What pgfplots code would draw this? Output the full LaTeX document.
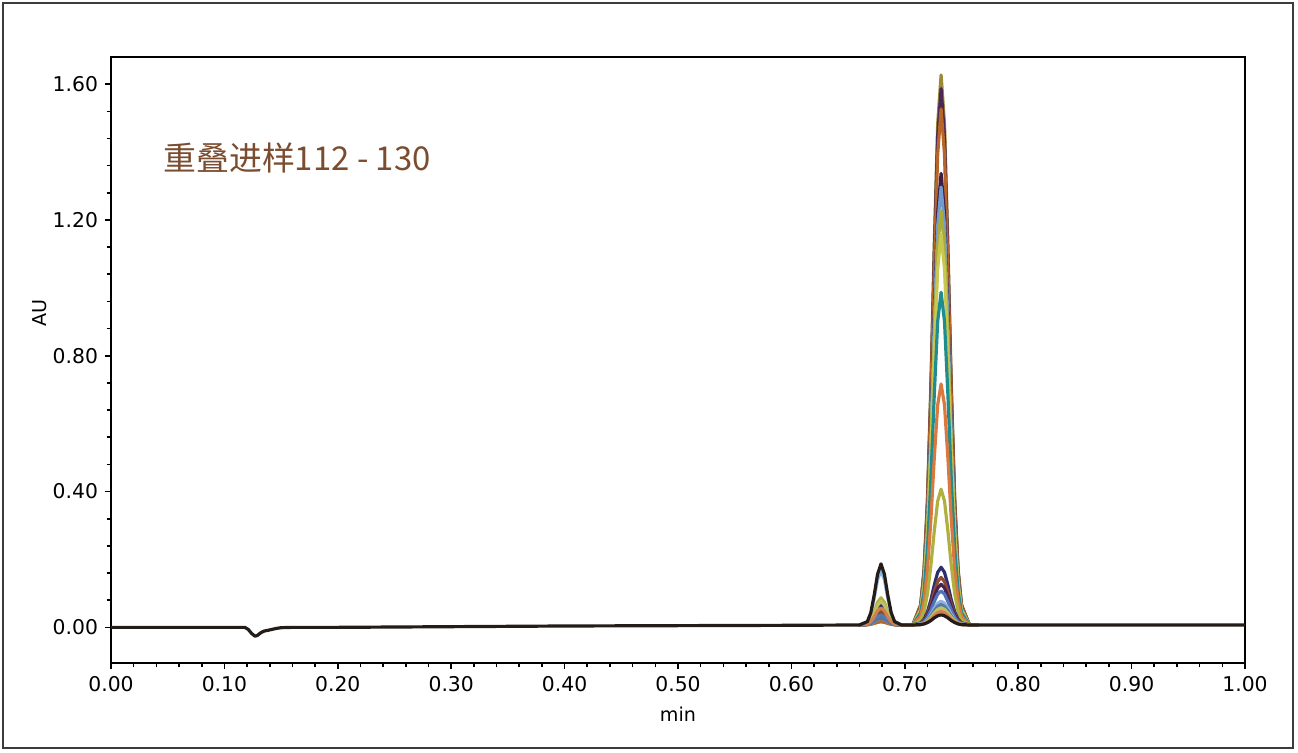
\documentclass[border=0pt]{standalone}
\usepackage{pgfplots}
\usepackage{pgfplotstable}
\pgfplotsset{compat=1.18}
\usepackage{fontspec}
\setmainfont{DejaVu Sans}
\newfontfamily\cjk{Noto Sans CJK SC}
\definecolor{c1}{RGB}{156,138,58}
\definecolor{c2}{RGB}{75,40,85}
\definecolor{c3}{RGB}{184,101,42}
\definecolor{c4}{RGB}{60,30,70}
\definecolor{c5}{RGB}{110,155,210}
\definecolor{c6}{RGB}{169,172,60}
\definecolor{c7}{RGB}{200,200,80}
\definecolor{c8}{RGB}{31,140,143}
\definecolor{c9}{RGB}{217,120,63}
\definecolor{c10}{RGB}{176,176,64}
\definecolor{c11}{RGB}{46,46,110}
\definecolor{c12}{RGB}{142,74,51}
\definecolor{c13}{RGB}{75,33,80}
\definecolor{c14}{RGB}{79,114,184}
\definecolor{c15}{RGB}{141,179,226}
\definecolor{c16}{RGB}{90,122,160}
\definecolor{c17}{RGB}{192,192,96}
\definecolor{c18}{RGB}{208,128,80}
\definecolor{cblack}{RGB}{35,28,25}
\definecolor{titlebrown}{RGB}{122,76,48}
\definecolor{framegray}{RGB}{60,60,60}

\pgfplotstableread{
x a b c d e f g h i j k l m n o p q r
0.660 0.007 0.007 0.007 0.007 0.007 0.007 0.007 0.007 0.007 0.007 0.007 0.007 0.007 0.007 0.007 0.007 0.007 0.007
0.667 0.008 0.008 0.008 0.009 0.008 0.009 0.008 0.009 0.010 0.011 0.010 0.009 0.009 0.008 0.016 0.009 0.011 0.010
0.670 0.009 0.011 0.009 0.013 0.011 0.015 0.011 0.013 0.017 0.023 0.019 0.015 0.013 0.011 0.039 0.013 0.021 0.017
0.673 0.012 0.017 0.012 0.022 0.017 0.026 0.017 0.022 0.031 0.046 0.036 0.026 0.022 0.017 0.085 0.022 0.041 0.031
0.676 0.015 0.024 0.015 0.032 0.024 0.040 0.024 0.032 0.049 0.074 0.057 0.040 0.032 0.024 0.141 0.032 0.065 0.049
0.679 0.017 0.027 0.017 0.037 0.027 0.047 0.027 0.037 0.057 0.087 0.067 0.047 0.037 0.027 0.167 0.037 0.077 0.057
0.682 0.015 0.024 0.015 0.032 0.024 0.040 0.024 0.032 0.049 0.074 0.057 0.040 0.032 0.024 0.141 0.032 0.065 0.049
0.685 0.012 0.017 0.012 0.022 0.017 0.026 0.017 0.022 0.031 0.046 0.036 0.026 0.022 0.017 0.085 0.022 0.041 0.031
0.688 0.009 0.011 0.009 0.013 0.011 0.015 0.011 0.013 0.017 0.023 0.019 0.015 0.013 0.011 0.039 0.013 0.021 0.017
0.691 0.008 0.008 0.008 0.009 0.008 0.009 0.008 0.009 0.010 0.011 0.010 0.009 0.009 0.008 0.016 0.009 0.011 0.010
0.697 0.007 0.007 0.007 0.007 0.007 0.007 0.007 0.007 0.007 0.007 0.007 0.007 0.007 0.007 0.007 0.007 0.007 0.007
0.707 0.007 0.007 0.007 0.007 0.007 0.007 0.007 0.007 0.007 0.007 0.007 0.007 0.007 0.007 0.007 0.007 0.007 0.007
0.714 0.067 0.065 0.063 0.056 0.055 0.052 0.050 0.043 0.033 0.022 0.013 0.012 0.011 0.011 0.010 0.009 0.009 0.008
0.717 0.171 0.167 0.161 0.141 0.137 0.130 0.123 0.106 0.079 0.047 0.024 0.021 0.019 0.017 0.014 0.013 0.012 0.011
0.720 0.380 0.370 0.357 0.313 0.304 0.288 0.272 0.232 0.170 0.099 0.046 0.039 0.035 0.030 0.023 0.021 0.019 0.016
0.723 0.715 0.697 0.671 0.588 0.571 0.540 0.510 0.435 0.317 0.182 0.081 0.068 0.059 0.051 0.038 0.033 0.029 0.024
0.726 1.130 1.102 1.060 0.929 0.901 0.852 0.804 0.686 0.499 0.284 0.125 0.104 0.090 0.076 0.056 0.049 0.042 0.035
0.729 1.484 1.448 1.393 1.220 1.184 1.120 1.056 0.901 0.655 0.372 0.162 0.135 0.116 0.098 0.071 0.062 0.053 0.043
0.732 1.627 1.587 1.527 1.337 1.297 1.227 1.157 0.987 0.717 0.407 0.177 0.147 0.127 0.107 0.077 0.067 0.057 0.047
0.735 1.484 1.448 1.393 1.220 1.184 1.120 1.056 0.901 0.655 0.372 0.162 0.135 0.116 0.098 0.071 0.062 0.053 0.043
0.738 1.130 1.102 1.060 0.929 0.901 0.852 0.804 0.686 0.499 0.284 0.125 0.104 0.090 0.076 0.056 0.049 0.042 0.035
0.741 0.715 0.697 0.671 0.588 0.571 0.540 0.510 0.435 0.317 0.182 0.081 0.068 0.059 0.051 0.038 0.033 0.029 0.024
0.744 0.380 0.370 0.357 0.313 0.304 0.288 0.272 0.232 0.170 0.099 0.046 0.039 0.035 0.030 0.023 0.021 0.019 0.016
0.747 0.171 0.167 0.161 0.141 0.137 0.130 0.123 0.106 0.079 0.047 0.024 0.021 0.019 0.017 0.014 0.013 0.012 0.011
0.750 0.067 0.065 0.063 0.056 0.055 0.052 0.050 0.043 0.033 0.022 0.013 0.012 0.011 0.011 0.010 0.009 0.009 0.008
0.757 0.007 0.007 0.007 0.007 0.007 0.007 0.007 0.007 0.007 0.007 0.007 0.007 0.007 0.007 0.007 0.007 0.007 0.007
0.765 0.007 0.007 0.007 0.007 0.007 0.007 0.007 0.007 0.007 0.007 0.007 0.007 0.007 0.007 0.007 0.007 0.007 0.007
}\peaks

\begin{document}
\begin{tikzpicture}
\begin{axis}[
  name=ax,
  scale only axis, width=567bp, height=303bp,
  xmin=0, xmax=1, ymin=-0.105, ymax=1.68,
  axis line style={line width=1bp, black},
  tick pos=left, tick align=outside,
  xtick={0,0.1,0.2,0.3,0.4,0.5,0.6,0.7,0.8,0.9,1.0},
  ytick={0,0.4,0.8,1.2,1.6},
  minor x tick num=4, minor y tick num=4,
  major tick length=3bp, minor tick length=2.2bp,
  every tick/.style={black, line width=0.8bp},
  tick label style={font=\fontsize{10.2}{12}\selectfont},
  scaled ticks=false,
  /pgf/number format/fixed,
  /pgf/number format/fixed zerofill,
  /pgf/number format/precision=2,
  /pgf/number format/assume math mode=true,
  xlabel={min}, ylabel={AU},
  label style={font=\fontsize{9.6}{11}\selectfont},
  xlabel style={at={(rel axis cs:0.5,0)}, yshift=-25.5bp, anchor=center},
  ylabel style={at={(rel axis cs:0,0.578)}, yshift=35.5bp, anchor=center},
  every axis plot/.append style={line width=1.6pt, line join=round},
]
\addplot[c1, no marks] table[x=x,y=a]{\peaks};
\addplot[c2, no marks] table[x=x,y=b]{\peaks};
\addplot[c3, no marks] table[x=x,y=c]{\peaks};
\addplot[c4, no marks] table[x=x,y=d]{\peaks};
\addplot[c5, no marks] table[x=x,y=e]{\peaks};
\addplot[c6, no marks] table[x=x,y=f]{\peaks};
\addplot[c7, no marks] table[x=x,y=g]{\peaks};
\addplot[c8, no marks] table[x=x,y=h]{\peaks};
\addplot[c9, no marks] table[x=x,y=i]{\peaks};
\addplot[c10, no marks] table[x=x,y=j]{\peaks};
\addplot[c11, no marks] table[x=x,y=k]{\peaks};
\addplot[c12, no marks] table[x=x,y=l]{\peaks};
\addplot[c13, no marks] table[x=x,y=m]{\peaks};
\addplot[c14, no marks] table[x=x,y=n]{\peaks};
\addplot[c15, no marks] table[x=x,y=o]{\peaks};
\addplot[c16, no marks] table[x=x,y=p]{\peaks};
\addplot[c17, no marks] table[x=x,y=q]{\peaks};
\addplot[c18, no marks] table[x=x,y=r]{\peaks};
\addplot[cblack, no marks] coordinates {
(0,0)(0.110,0)(0.118,0)(0.121,-0.006)(0.124,-0.018)(0.127,-0.026)(0.129,-0.024)
(0.132,-0.016)(0.135,-0.011)(0.138,-0.009)(0.142,-0.006)(0.146,-0.003)(0.150,-0.001)
(0.160,0)(0.200,0)(0.300,0.002)(0.400,0.004)(0.500,0.005)(0.600,0.006)(0.660,0.007)
(0.667,0.017)(0.670,0.043)(0.673,0.095)(0.676,0.157)(0.679,0.187)(0.682,0.157)
(0.685,0.095)(0.688,0.043)(0.691,0.017)(0.697,0.007)(0.707,0.007)
(0.714,0.008)(0.717,0.010)(0.720,0.014)(0.723,0.020)(0.726,0.028)(0.729,0.034)
(0.732,0.037)(0.735,0.034)(0.738,0.028)(0.741,0.020)(0.744,0.014)(0.747,0.010)
(0.750,0.008)(0.757,0.007)(0.800,0.007)(1.000,0.007)};
\end{axis}
\node[anchor=west, text=titlebrown, font=\cjk\fontsize{16.5}{19}\selectfont, inner sep=0pt]
  at ([shift={(26bp,-50.5bp)}]ax.north west) {重叠进样112 - 130};
\draw[line width=1bp, framegray] ([shift={(-54bp,-42.5bp)}]ax.south west) rectangle ([shift={(24bp,27bp)}]ax.north east);
\pgfresetboundingbox
\useasboundingbox ([shift={(-55.5bp,-45bp)}]ax.south west) rectangle ([shift={(26.5bp,28.5bp)}]ax.north east);
\end{tikzpicture}
\end{document}
